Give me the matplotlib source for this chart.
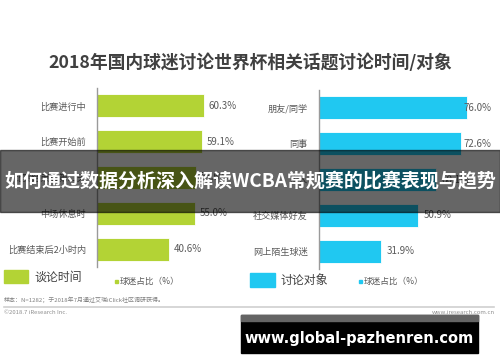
import matplotlib.pyplot as plt
from matplotlib.patches import Rectangle

plt.rcParams['font.family'] = ['Noto Sans CJK SC', 'DejaVu Sans']

title = '2018年国内球迷讨论世界杯相关话题讨论时间/对象'
time_cats = ['比赛进行中', '比赛开始前', '比赛结束后第二天', '中场休息时', '比赛结束后2小时内']
time_vals = [60.3, 59.1, 55.6, 55.0, 40.6]
obj_cats = ['朋友/同学', '同事', '家人', '社交媒体好友', '网上陌生球迷']
obj_vals = [76.0, 72.6, 60.1, 50.9, 31.9]

W, H = 500, 362
GREEN = '#b3d335'
BLUE = '#20c8f1'
TXT = '#595959'

fig = plt.figure(figsize=(W / 100, H / 100), dpi=100)
fig.patch.set_facecolor('white')


def fx(x):
    return x / W


def fy(y):
    return 1 - y / H


def draw_panel(rect, cats, vals, color, lab_max):
    ax = fig.add_axes(rect)
    ax.barh(range(len(cats)), vals, height=0.64, color=color,
            edgecolor='white', linewidth=0.6)
    ax.set_xlim(0, 80)
    ax.set_ylim(4.5, -0.5)
    ax.set_yticks(range(len(cats)))
    ax.set_yticklabels(cats, fontsize=6.6, color=TXT)
    ax.tick_params(axis='y', length=0, pad=8)
    ax.set_xticks([])
    for s in ['top', 'right', 'bottom']:
        ax.spines[s].set_visible(False)
    ax.spines['left'].set_color('#9a9a9a')
    ax.spines['left'].set_linewidth(1)
    for i, v in enumerate(vals):
        ax.text(min(v + 2.6, lab_max), i, f'{v:.1f}%', va='center', ha='left',
                fontsize=7, color=TXT)
    return ax


draw_panel([fx(97), fy(267), 142 / W, 179 / H], time_cats, time_vals, GREEN, 100)
draw_panel([fx(319), fy(269), 156 / W, 179 / H], obj_cats, obj_vals, BLUE, 73.9)

fig.text(0.5, fy(63), title, ha='center', va='center', fontsize=12.8,
         fontweight='bold', color='#404040')

# legend row
fig.patches.append(Rectangle((fx(4), fy(283)), 24 / W, 13 / H, color=GREEN,
                             transform=fig.transFigure))
fig.text(fx(34), fy(277), '谈论时间', fontsize=8.6, color='#404040', va='center')
fig.patches.append(Rectangle((fx(115), fy(283)), 3 / W, 3 / H, color=GREEN,
                             transform=fig.transFigure))
fig.text(fx(120), fy(281), '球迷占比（%）', fontsize=6.2, color=TXT, va='center')

fig.patches.append(Rectangle((fx(250), fy(287)), 25 / W, 14 / H, color=BLUE,
                             transform=fig.transFigure))
fig.text(fx(281), fy(280), '讨论对象', fontsize=8.6, color='#404040', va='center')
fig.patches.append(Rectangle((fx(359), fy(283)), 3 / W, 3 / H, color=BLUE,
                             transform=fig.transFigure))
fig.text(fx(364), fy(281), '球迷占比（%）', fontsize=6.2, color=TXT, va='center')

# footnotes
fig.text(fx(4), fy(300), '样本：N=1282；于2018年7月通过艾瑞iClick社区调研获得。',
         fontsize=4.3, color='#808080', va='center')
fig.add_artist(plt.Line2D([fx(4), fx(494)], [fy(307), fy(307)], color='#d0d0d0',
                          linewidth=1.2, transform=fig.transFigure))
fig.text(fx(4), fy(312), '©2018.7 iResearch Inc.', fontsize=4.3, color='#909090',
         va='center')
fig.text(fx(495), fy(312), 'www.iresearch.com.cn', fontsize=4.3, color='#909090',
         va='center', ha='right')

# overlay banner
fig.patches.append(Rectangle((0, fy(212)), 1, 62 / H, color='black', alpha=0.6,
                             transform=fig.transFigure, zorder=5))
fig.text(0.5, fy(181), '如何通过数据分析深入解读WCBA常规赛的比赛表现与趋势',
         ha='center', va='center', fontsize=13.7, fontweight='bold', color='white',
         zorder=6)

# url box
fig.patches.append(Rectangle((fx(241), fy(353)), 237 / W, 38 / H, color='black',
                             transform=fig.transFigure, zorder=5))
fig.patches.append(Rectangle((fx(241), fy(321)), 237 / W, 6 / H, color='#646464',
                             transform=fig.transFigure, zorder=6))
fig.text(fx(359), fy(338), 'www.global-pazhenren.com', ha='center', va='center',
         fontsize=10.5, fontweight='bold', color='white', zorder=7,
         family=['DejaVu Sans'])

fig.savefig('out.png', dpi=100)
